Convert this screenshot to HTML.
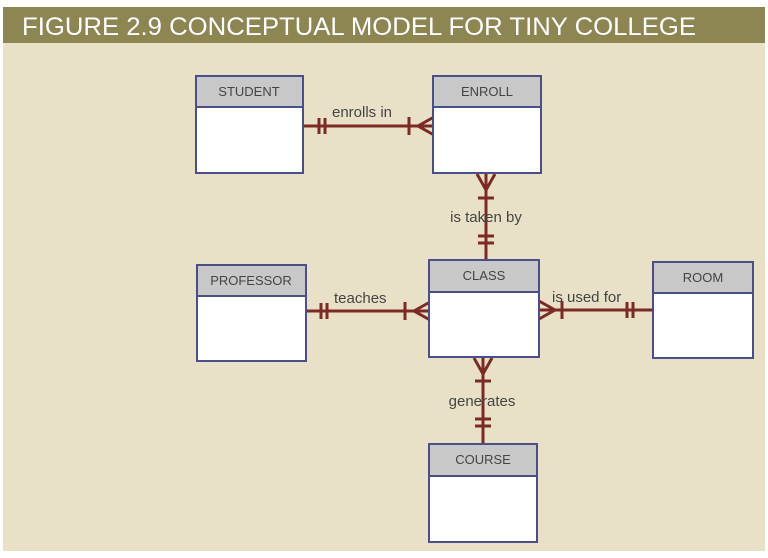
<!DOCTYPE html>
<html><head><meta charset="utf-8"><style>
html,body{margin:0;padding:0;background:#fff;}
svg{display:block;}
text{font-family:"Liberation Sans",sans-serif;}
</style></head><body>
<svg width="768" height="558" viewBox="0 0 768 558" xmlns="http://www.w3.org/2000/svg">
<rect x="0" y="0" width="768" height="558" fill="#fff"/>
<rect x="3" y="43" width="762" height="508" fill="#e8e1c7"/>
<rect x="3" y="7" width="762" height="36" fill="#8e8652"/>
<text x="22" y="35" font-size="25" fill="#fff" textLength="674" lengthAdjust="spacingAndGlyphs">FIGURE 2.9  CONCEPTUAL MODEL FOR TINY COLLEGE</text>

<g stroke="#7b2a24" stroke-width="3" fill="none">
<line x1="303" y1="126" x2="433" y2="126"/>
<line x1="319" y1="118" x2="319" y2="134"/><line x1="325" y1="118" x2="325" y2="134"/>
<line x1="409" y1="117" x2="409" y2="135"/>
<polyline points="434,117 418,126 434,135"/>
<line x1="486" y1="173" x2="486" y2="260"/>
<polyline points="477,174 486,190 495,174"/>
<line x1="478" y1="198" x2="494" y2="198"/>
<line x1="478" y1="236" x2="494" y2="236"/><line x1="478" y1="243" x2="494" y2="243"/>
<line x1="306" y1="311" x2="429" y2="311"/>
<line x1="321" y1="303" x2="321" y2="319"/><line x1="327" y1="303" x2="327" y2="319"/>
<line x1="405" y1="302" x2="405" y2="320"/>
<polyline points="430,302 414,311 430,320"/>
<line x1="539" y1="310" x2="653" y2="310"/>
<polyline points="539,301 555,310 539,319"/>
<line x1="562" y1="301" x2="562" y2="319"/>
<line x1="627" y1="302" x2="627" y2="318"/><line x1="633" y1="302" x2="633" y2="318"/>
<line x1="483" y1="357" x2="483" y2="444"/>
<polyline points="474,358 483,374 492,358"/>
<line x1="475" y1="381" x2="491" y2="381"/>
<line x1="475" y1="419" x2="491" y2="419"/><line x1="475" y1="426" x2="491" y2="426"/>
</g>

<g font-size="15" fill="#444">
<text x="332" y="117">enrolls in</text>
<text x="486" y="222" text-anchor="middle">is taken by</text>
<text x="334" y="303">teaches</text>
<text x="552" y="302">is used for</text>
<text x="482" y="406" text-anchor="middle">generates</text>
</g>

<g stroke="#4a4f8a" stroke-width="2">
<rect x="196" y="76" width="107" height="97" fill="#fff"/>
<rect x="196" y="76" width="107" height="31" fill="#c8c8c8"/>
<rect x="433" y="76" width="108" height="97" fill="#fff"/>
<rect x="433" y="76" width="108" height="31" fill="#c8c8c8"/>
<rect x="197" y="265" width="109" height="96" fill="#fff"/>
<rect x="197" y="265" width="109" height="31" fill="#c8c8c8"/>
<rect x="429" y="260" width="110" height="97" fill="#fff"/>
<rect x="429" y="260" width="110" height="32" fill="#c8c8c8"/>
<rect x="653" y="262" width="100" height="96" fill="#fff"/>
<rect x="653" y="262" width="100" height="31" fill="#c8c8c8"/>
<rect x="429" y="444" width="108" height="98" fill="#fff"/>
<rect x="429" y="444" width="108" height="32" fill="#c8c8c8"/>
</g>
<g font-size="13" fill="#444" text-anchor="middle">
<text x="249" y="96">STUDENT</text>
<text x="487" y="96">ENROLL</text>
<text x="251" y="285">PROFESSOR</text>
<text x="484" y="280">CLASS</text>
<text x="703" y="282">ROOM</text>
<text x="483" y="464">COURSE</text>
</g>
</svg>
</body></html>
